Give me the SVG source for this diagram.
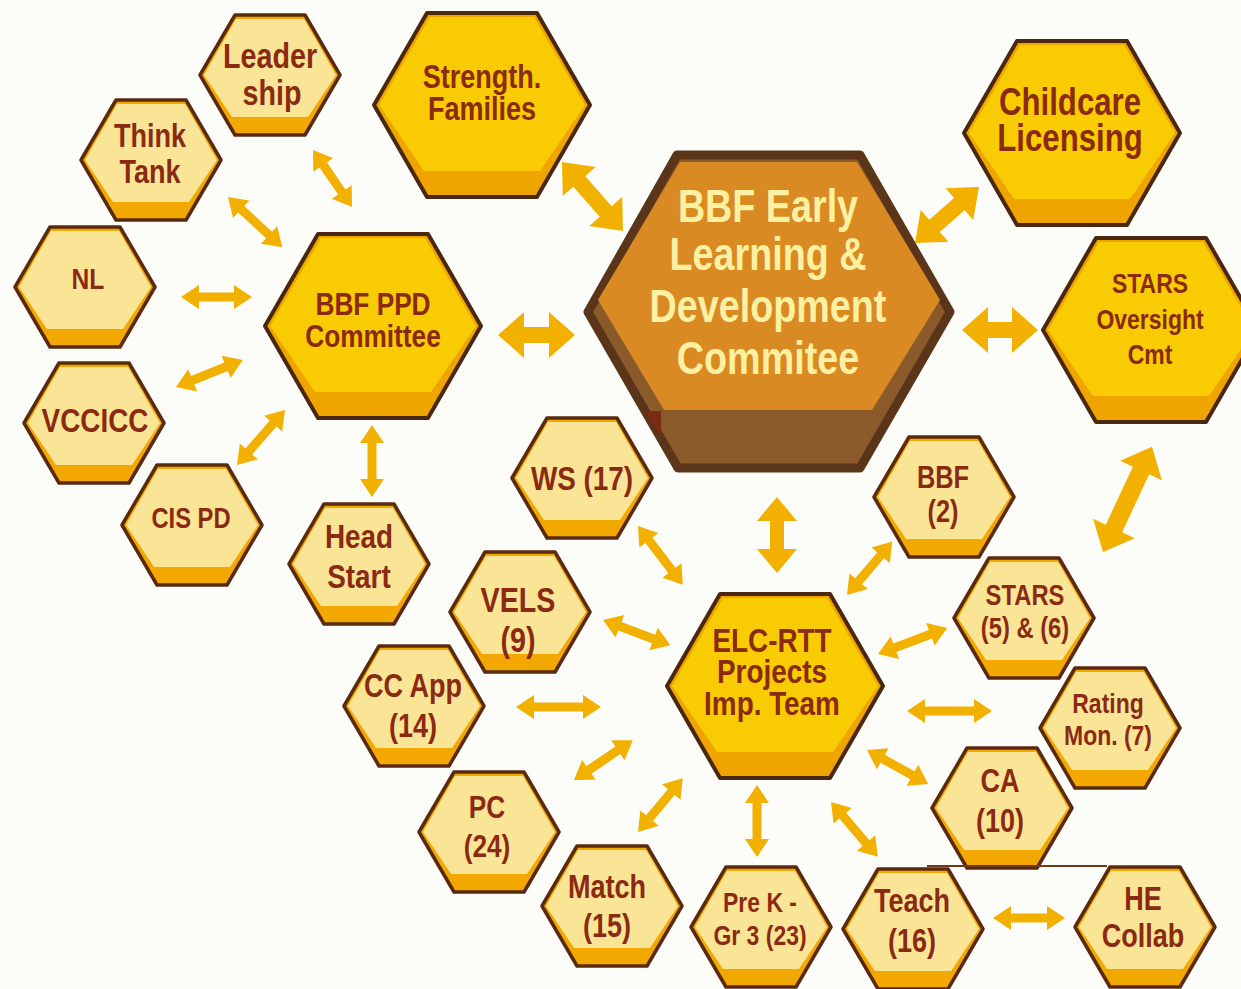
<svg xmlns="http://www.w3.org/2000/svg" xmlns:xlink="http://www.w3.org/1999/xlink" width="1241" height="989" viewBox="0 0 1241 989">
<style>
.bg{fill:#FCFCF8}
.so{fill:#F2A800;stroke:#5A2A10;stroke-width:3.5;stroke-linejoin:round}
.sf{fill:#FAE597}
.yo{fill:#EFA400;stroke:#4A2810;stroke-width:4;stroke-linejoin:round}
.yf{fill:#F8CB02}
.co{fill:#8B5A2B;stroke:#5B3519;stroke-width:9;stroke-linejoin:round}
.cf{fill:#DA8A22}
.t{fill:#8B2A12;font-family:"Liberation Sans",Arial,sans-serif;font-weight:bold;text-anchor:middle}
.tc{fill:#FCF0A2;font-family:"Liberation Sans",Arial,sans-serif;font-weight:bold;text-anchor:middle;font-size:46px}
.arr{fill:#F2B100}
</style>
<defs>
<g id="hs">
<polygon class="so" points="-70,0 -35,-60 35,-60 70,0 35,60 -35,60"/>
<polygon class="sf" points="-66,0 -34,-56 34,-56 66,0 38,42 -38,42"/>
</g>
<g id="hy">
<polygon class="yo" points="-108,0 -55,-92 55,-92 108,0 55,92 -55,92"/>
<polygon class="yf" points="-103,0 -52,-88 52,-88 103,0 58,66 -58,66"/>
</g>
</defs>
<rect class="bg" x="0" y="0" width="1241" height="989"/>

<g id="connectors">
<polygon class="arr" transform="translate(313,150) rotate(55.6)" points="0,0 18,-12 18,-4.5 51,-4.5 51,-12 69,0 51,12 51,4.5 18,4.5 18,12"/>
<polygon class="arr" transform="translate(228,197) rotate(42.8)" points="0,0 18,-12 18,-4.5 56,-4.5 56,-12 74,0 56,12 56,4.5 18,4.5 18,12"/>
<polygon class="arr" transform="translate(181,297)" points="0,0 18,-12 18,-4.5 53,-4.5 53,-12 71,0 53,12 53,4.5 18,4.5 18,12"/>
<polygon class="arr" transform="translate(176,387) rotate(-22)" points="0,0 18,-12 18,-4.5 54,-4.5 54,-12 72,0 54,12 54,4.5 18,4.5 18,12"/>
<polygon class="arr" transform="translate(237,465) rotate(-48.9)" points="0,0 18,-12 18,-4.5 55,-4.5 55,-12 73,0 55,12 55,4.5 18,4.5 18,12"/>
<polygon class="arr" transform="translate(372,425) rotate(90)" points="0,0 18,-12 18,-4.5 54,-4.5 54,-12 72,0 54,12 54,4.5 18,4.5 18,12"/>
<polygon class="arr" transform="translate(498,335)" points="0,0 26,-23 26,-8 51,-8 51,-23 77,0 51,23 51,8 26,8 26,23"/>
<polygon class="arr" transform="translate(562,162) rotate(48.5)" points="0,0 26,-22 26,-8 66,-8 66,-22 92,0 66,22 66,8 26,8 26,22"/>
<polygon class="arr" transform="translate(915,243) rotate(-41.2)" points="0,0 26,-21 26,-8 59,-8 59,-21 85,0 59,21 59,8 26,8 26,21"/>
<polygon class="arr" transform="translate(962,330)" points="0,0 26,-23 26,-8 50,-8 50,-23 76,0 50,23 50,8 26,8 26,23"/>
<polygon class="arr" transform="translate(1103,552) rotate(-65)" points="0,0 26,-23 26,-9 90,-9 90,-23 116,0 90,23 90,9 26,9 26,23"/>
<polygon class="arr" transform="translate(777,497) rotate(90)" points="0,0 24,-20 24,-7 52,-7 52,-20 76,0 52,20 52,7 24,7 24,20"/>
<polygon class="arr" transform="translate(638,526) rotate(52.7)" points="0,0 18,-12 18,-4.5 56,-4.5 56,-12 74,0 56,12 56,4.5 18,4.5 18,12"/>
<polygon class="arr" transform="translate(603,620) rotate(20.5)" points="0,0 18,-12 18,-4.5 54,-4.5 54,-12 72,0 54,12 54,4.5 18,4.5 18,12"/>
<polygon class="arr" transform="translate(516,707)" points="0,0 18,-12 18,-4.5 67,-4.5 67,-12 85,0 67,12 67,4.5 18,4.5 18,12"/>
<polygon class="arr" transform="translate(574,780) rotate(-34.1)" points="0,0 18,-12 18,-4.5 53,-4.5 53,-12 71,0 53,12 53,4.5 18,4.5 18,12"/>
<polygon class="arr" transform="translate(638,832) rotate(-50.2)" points="0,0 18,-12 18,-4.5 52,-4.5 52,-12 70,0 52,12 52,4.5 18,4.5 18,12"/>
<polygon class="arr" transform="translate(757,785) rotate(90)" points="0,0 18,-12 18,-4.5 54,-4.5 54,-12 72,0 54,12 54,4.5 18,4.5 18,12"/>
<polygon class="arr" transform="translate(831,802) rotate(49.5)" points="0,0 18,-12 18,-4.5 54,-4.5 54,-12 72,0 54,12 54,4.5 18,4.5 18,12"/>
<polygon class="arr" transform="translate(867,750) rotate(29.1)" points="0,0 18,-12 18,-4.5 52,-4.5 52,-12 70,0 52,12 52,4.5 18,4.5 18,12"/>
<polygon class="arr" transform="translate(907,711)" points="0,0 18,-12 18,-4.5 67,-4.5 67,-12 85,0 67,12 67,4.5 18,4.5 18,12"/>
<polygon class="arr" transform="translate(878,654) rotate(-20.6)" points="0,0 18,-12 18,-4.5 56,-4.5 56,-12 74,0 56,12 56,4.5 18,4.5 18,12"/>
<polygon class="arr" transform="translate(847,595) rotate(-49.7)" points="0,0 18,-12 18,-4.5 52,-4.5 52,-12 70,0 52,12 52,4.5 18,4.5 18,12"/>
<polygon class="arr" transform="translate(993,918)" points="0,0 18,-12 18,-4.5 54,-4.5 54,-12 72,0 54,12 54,4.5 18,4.5 18,12"/>
</g>

<g id="node-central">
<polygon class="co" points="588,312 677,155 860,155 950,312 860,468 678,468"/>
<polygon class="cf" points="598,300 680,162 857,162 940,300 872,410 664,410"/>
<text class="tc" transform="matrix(.82 0 0 1 768 0)" y="222">BBF Early</text>
<text class="tc" transform="matrix(.82 0 0 1 768 0)" y="270">Learning &amp;</text>
<text class="tc" transform="matrix(.82 0 0 1 768 0)" y="322">Development</text>
<text class="tc" transform="matrix(.82 0 0 1 768 0)" y="374">Commitee</text>
</g>

<g id="node-strength">
<use xlink:href="#hy" x="482" y="105"/>
<text class="t" font-size="33" transform="matrix(.82 0 0 1 482 0)" y="88">Strength.</text>
<text class="t" font-size="33" transform="matrix(.82 0 0 1 482 0)" y="120">Families</text>
</g>
<g id="node-childcare">
<use xlink:href="#hy" x="1072" y="133"/>
<text class="t" font-size="38" transform="matrix(.82 0 0 1 1070 0)" y="115">Childcare</text>
<text class="t" font-size="38" transform="matrix(.82 0 0 1 1070 0)" y="151">Licensing</text>
</g>
<g id="node-starsoversight">
<use xlink:href="#hy" x="1151" y="330"/>
<text class="t" font-size="28" transform="matrix(.82 0 0 1 1150 0)" y="293">STARS</text>
<text class="t" font-size="28" transform="matrix(.82 0 0 1 1150 0)" y="329">Oversight</text>
<text class="t" font-size="28" transform="matrix(.82 0 0 1 1150 0)" y="364">Cmt</text>
</g>
<g id="node-ppd">
<use xlink:href="#hy" x="373" y="326"/>
<text class="t" font-size="32" transform="matrix(.82 0 0 1 373 0)" y="315">BBF PPD</text>
<text class="t" font-size="32" transform="matrix(.82 0 0 1 373 0)" y="347">Committee</text>
</g>
<g id="node-elc">
<use xlink:href="#hy" x="775" y="686"/>
<text class="t" font-size="34" transform="matrix(.82 0 0 1 772 0)" y="652">ELC-RTT</text>
<text class="t" font-size="34" transform="matrix(.82 0 0 1 772 0)" y="683">Projects</text>
<text class="t" font-size="34" transform="matrix(.82 0 0 1 772 0)" y="715">Imp. Team</text>
</g>

<g id="node-leadership">
<use xlink:href="#hs" x="270" y="75"/>
<text class="t" font-size="35" transform="matrix(.82 0 0 1 270 0)" y="68">Leader</text>
<text class="t" font-size="35" transform="matrix(.82 0 0 1 272 0)" y="105">ship</text>
</g>
<g id="node-thinktank">
<use xlink:href="#hs" x="151" y="160"/>
<text class="t" font-size="33" transform="matrix(.82 0 0 1 150 0)" y="147">Think</text>
<text class="t" font-size="33" transform="matrix(.82 0 0 1 150 0)" y="183">Tank</text>
</g>
<g id="node-nl">
<use xlink:href="#hs" x="85" y="287"/>
<text class="t" font-size="30" transform="matrix(.82 0 0 1 88 0)" y="289">NL</text>
</g>
<g id="node-vccicc">
<use xlink:href="#hs" x="94" y="423"/>
<text class="t" font-size="34" transform="matrix(.82 0 0 1 95 0)" y="432">VCCICC</text>
</g>
<g id="node-cispd">
<use xlink:href="#hs" x="192" y="525"/>
<text class="t" font-size="29" transform="matrix(.82 0 0 1 191 0)" y="528">CIS PD</text>
</g>
<g id="node-headstart">
<use xlink:href="#hs" x="359" y="564"/>
<text class="t" font-size="34" transform="matrix(.82 0 0 1 359 0)" y="548">Head</text>
<text class="t" font-size="34" transform="matrix(.82 0 0 1 359 0)" y="588">Start</text>
</g>
<g id="node-ws17">
<use xlink:href="#hs" x="582" y="478"/>
<text class="t" font-size="34" transform="matrix(.82 0 0 1 582 0)" y="490">WS (17)</text>
</g>
<g id="node-vels">
<use xlink:href="#hs" x="520" y="612"/>
<text class="t" font-size="35" transform="matrix(.82 0 0 1 518 0)" y="612">VELS</text>
<text class="t" font-size="35" transform="matrix(.82 0 0 1 518 0)" y="652">(9)</text>
</g>
<g id="node-ccapp">
<use xlink:href="#hs" x="414" y="706"/>
<text class="t" font-size="33" transform="matrix(.82 0 0 1 413 0)" y="697">CC App</text>
<text class="t" font-size="33" transform="matrix(.82 0 0 1 413 0)" y="737">(14)</text>
</g>
<g id="node-pc">
<use xlink:href="#hs" x="489" y="832"/>
<text class="t" font-size="32" transform="matrix(.82 0 0 1 487 0)" y="818">PC</text>
<text class="t" font-size="32" transform="matrix(.82 0 0 1 487 0)" y="857">(24)</text>
</g>
<g id="node-match">
<use xlink:href="#hs" x="612" y="906"/>
<text class="t" font-size="33" transform="matrix(.82 0 0 1 607 0)" y="898">Match</text>
<text class="t" font-size="33" transform="matrix(.82 0 0 1 607 0)" y="937">(15)</text>
</g>
<g id="node-prek">
<use xlink:href="#hs" x="761" y="927"/>
<text class="t" font-size="28" transform="matrix(.82 0 0 1 760 0)" y="912">Pre K -</text>
<text class="t" font-size="28" transform="matrix(.82 0 0 1 760 0)" y="945">Gr 3 (23)</text>
</g>
<g id="node-teach">
<use xlink:href="#hs" x="913" y="929"/>
<text class="t" font-size="33" transform="matrix(.82 0 0 1 912 0)" y="912">Teach</text>
<text class="t" font-size="33" transform="matrix(.82 0 0 1 912 0)" y="952">(16)</text>
</g>
<g id="node-hecollab">
<use xlink:href="#hs" x="1145" y="927"/>
<text class="t" font-size="33" transform="matrix(.82 0 0 1 1143 0)" y="910">HE</text>
<text class="t" font-size="33" transform="matrix(.82 0 0 1 1143 0)" y="947">Collab</text>
</g>
<g id="node-bbf2">
<use xlink:href="#hs" x="944" y="497"/>
<text class="t" font-size="31" transform="matrix(.82 0 0 1 943 0)" y="488">BBF</text>
<text class="t" font-size="31" transform="matrix(.82 0 0 1 943 0)" y="522">(2)</text>
</g>
<g id="node-stars56">
<use xlink:href="#hs" x="1024" y="618"/>
<text class="t" font-size="29" transform="matrix(.82 0 0 1 1025 0)" y="605">STARS</text>
<text class="t" font-size="29" transform="matrix(.82 0 0 1 1025 0)" y="638">(5) &amp; (6)</text>
</g>
<g id="node-rating">
<use xlink:href="#hs" x="1110" y="728"/>
<text class="t" font-size="28" transform="matrix(.82 0 0 1 1108 0)" y="713">Rating</text>
<text class="t" font-size="28" transform="matrix(.82 0 0 1 1108 0)" y="745">Mon. (7)</text>
</g>
<g id="node-ca10">
<use xlink:href="#hs" x="1002" y="808"/>
<text class="t" font-size="33" transform="matrix(.82 0 0 1 1000 0)" y="792">CA</text>
<text class="t" font-size="33" transform="matrix(.82 0 0 1 1000 0)" y="832">(10)</text>
</g>
<polygon points="645,411 661,411 661,437" fill="#7B2B14"/>
<line x1="927" y1="866" x2="1107" y2="866" stroke="#6B3A1E" stroke-width="2"/>
</svg>
